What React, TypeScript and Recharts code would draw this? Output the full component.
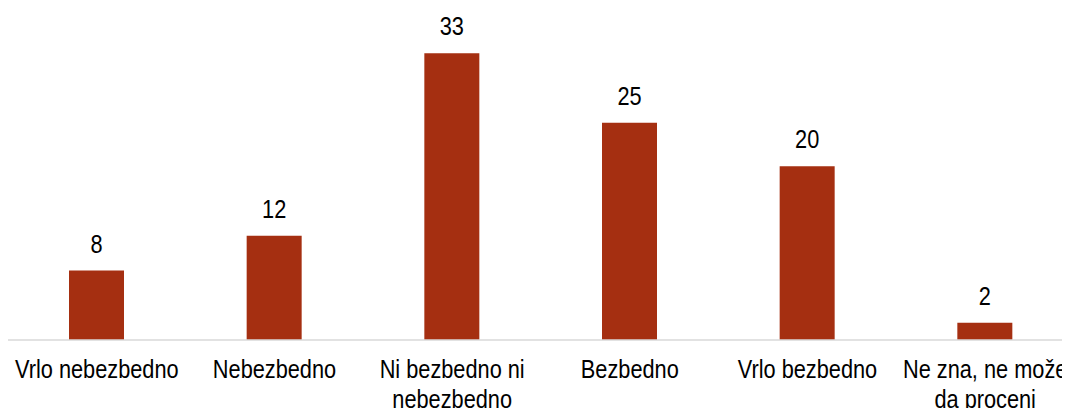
import { BarChart, Bar, XAxis, YAxis, LabelList } from "recharts";

const categories = [
  "Vrlo nebezbedno",
  "Nebezbedno",
  "Ni bezbedno ni\nnebezbedno",
  "Bezbedno",
  "Vrlo bezbedno",
  "Ne zna, ne može\nda proceni",
];

const values = [8, 12, 33, 25, 20, 2];

const data = categories.map((name, i) => ({ name, value: values[i] }));

// no narrow font installed, so squeeze Liberation Sans a bit
const FONT = '"Liberation Sans", Arial, sans-serif';
const FONT_SIZE = 25;
const SQUEEZE = 0.87;
const BAR_COLOR = "#A52F11";

function NarrowText({ x, y, children }: { x: number; y: number; children: any }) {
  return (
    <text
      transform={`translate(${x},${y}) scale(${SQUEEZE},1)`}
      textAnchor="middle"
      fill="#000"
      style={{ fontFamily: FONT, fontSize: FONT_SIZE }}
    >
      {children}
    </text>
  );
}

function CategoryTick(props: any) {
  const { x, y, payload } = props;
  const lines = String(payload.value).split("\n");
  return (
    <g>
      {lines.map((line, i) => (
        <NarrowText key={i} x={x} y={y + 38 + i * 30}>
          {line}
        </NarrowText>
      ))}
    </g>
  );
}

function ValueLabel(props: any) {
  const { x, y, width, value } = props;
  return (
    <NarrowText x={x + width / 2} y={y - 18}>
      {value}
    </NarrowText>
  );
}

export default function App() {
  return (
    <div style={{ width: 1062, height: 408, overflow: "hidden", marginBottom: -8 }}>
      <BarChart
        width={1066}
        height={408}
        data={data}
        margin={{ top: 28, right: 0, left: 0, bottom: 16 }}
      >
        <XAxis
          dataKey="name"
          axisLine={{ stroke: "#d9d9d9", strokeWidth: 1.5 }}
          tickLine={false}
          tickSize={0}
          tickMargin={0}
          height={60}
          interval={0}
          tick={<CategoryTick />}
        />
        <YAxis hide domain={[0, 35]} />
        <Bar dataKey="value" fill={BAR_COLOR} barSize={55} isAnimationActive={false}>
          <LabelList dataKey="value" content={<ValueLabel />} />
        </Bar>
      </BarChart>
    </div>
  );
}
